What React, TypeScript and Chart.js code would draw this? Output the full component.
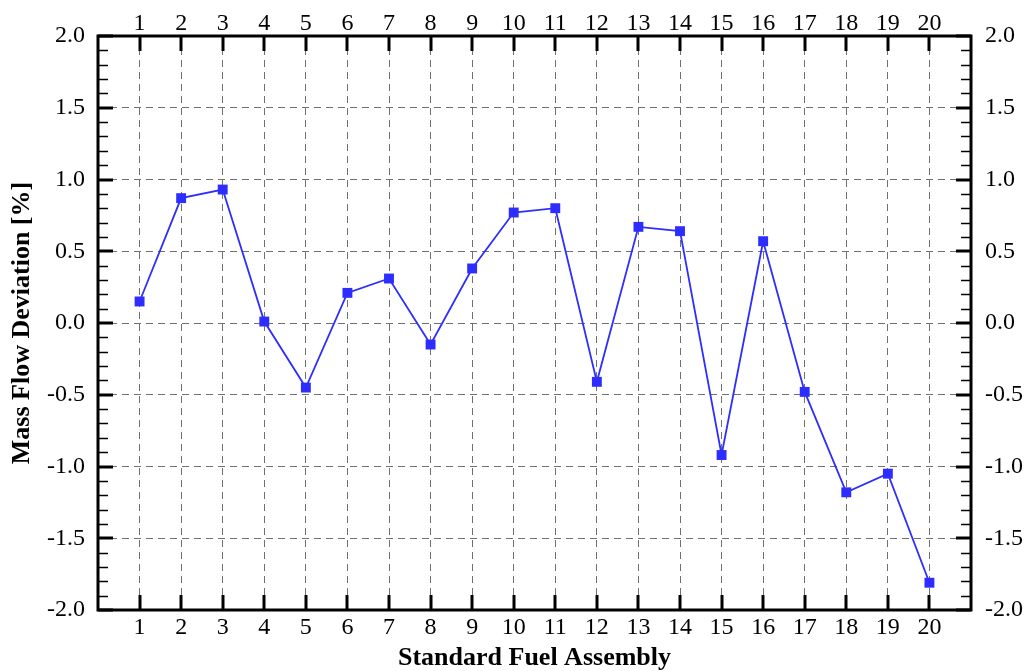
import React, { useEffect, useRef } from "react";
import { Chart, registerables } from "chart.js";

Chart.register(...registerables);

// ---- data ----
const assemblies: number[] = [1, 2, 3, 4, 5, 6, 7, 8, 9, 10, 11, 12, 13, 14, 15, 16, 17, 18, 19, 20];
const massFlowDeviation: number[] = [
  0.15, 0.87, 0.93, 0.01, -0.45, 0.21, 0.31, -0.15, 0.38, 0.77,
  0.8, -0.41, 0.67, 0.64, -0.92, 0.57, -0.48, -1.18, -1.05, -1.81,
];
const yTickValues: number[] = [-2.0, -1.5, -1.0, -0.5, 0.0, 0.5, 1.0, 1.5, 2.0];
const yMinorStep = 0.1;
const xTitle = "Standard Fuel Assembly";
const yTitle = "Mass Flow Deviation [%]";

const SERIF = "'Liberation Serif', 'Times New Roman', serif";
const LINE_COLOR = "rgb(45,45,255)";

const frameTicksPlugin = {
  id: "frameTicks",
  afterDraw(chart: any) {
    const { ctx, chartArea } = chart;
    const { left, right, top, bottom } = chartArea;
    const xs = chart.scales.x;
    const ys = chart.scales.y;
    const seg = (x1: number, y1: number, x2: number, y2: number) => {
      ctx.beginPath();
      ctx.moveTo(x1, y1);
      ctx.lineTo(x2, y2);
      ctx.stroke();
    };
    ctx.save();
    ctx.strokeStyle = "#000";
    ctx.lineCap = "butt";
    // minor y ticks
    ctx.lineWidth = 1.5;
    const minV = yTickValues[0];
    const maxV = yTickValues[yTickValues.length - 1];
    const n = Math.round((maxV - minV) / yMinorStep);
    for (let i = 1; i < n; i++) {
      const v = minV + i * yMinorStep;
      if (Math.abs(v * 2 - Math.round(v * 2)) < 1e-6) continue;
      const py = Math.round(ys.getPixelForValue(v)) + 0.5;
      seg(left, py, left + 10, py);
      seg(right, py, right - 10, py);
    }
    // major y ticks
    ctx.lineWidth = 3;
    for (const v of yTickValues) {
      const py = Math.round(ys.getPixelForValue(v));
      seg(left, py, left + 15, py);
      seg(right, py, right - 15, py);
    }
    // x ticks
    for (const v of assemblies) {
      const px = Math.round(xs.getPixelForValue(v));
      seg(px, bottom, px, bottom - 15);
      seg(px, top, px, top + 15);
    }
    // frame
    ctx.lineWidth = 3;
    ctx.strokeRect(left, top, right - left, bottom - top);
    ctx.restore();
  },
};

const tickFont = { family: SERIF, size: 24, lineHeight: 1 };

export default function App() {
  const canvasRef = useRef<HTMLCanvasElement | null>(null);

  useEffect(() => {
    const canvas = canvasRef.current;
    if (!canvas) return;
    const setXTicks = (scale: any) => {
      scale.ticks = assemblies.map((v) => ({ value: v }));
    };
    const setYTicks = (scale: any) => {
      scale.ticks = yTickValues.map((v) => ({ value: v }));
    };
    const chart = new Chart(canvas, {
      type: "line",
      data: {
        datasets: [
          {
            data: assemblies.map((a, i) => ({ x: a, y: massFlowDeviation[i] })),
            borderColor: LINE_COLOR,
            backgroundColor: LINE_COLOR,
            borderWidth: 1.8,
            pointStyle: "rect",
            pointRadius: 7,
            pointBorderWidth: 0,
            pointBackgroundColor: LINE_COLOR,
            tension: 0,
          },
        ],
      },
      options: {
        responsive: false,
        animation: false,
        devicePixelRatio: 1,
        layout: { padding: 0 },
        plugins: { legend: { display: false }, tooltip: { enabled: false } },
        scales: {
          x: {
            type: "linear",
            position: "bottom",
            min: 0,
            max: 21,
            afterBuildTicks: setXTicks,
            afterFit: (s: any) => { s.height = 61; },
            grid: { color: "#707070", lineWidth: 1, drawTicks: false },
            border: { display: false, dash: [7, 5] },
            ticks: { font: tickFont, color: "#000", padding: 6, autoSkip: false, maxRotation: 0, callback: (v: any) => String(v) },
            title: { display: true, text: xTitle, color: "#000", font: { family: SERIF, size: 26, weight: "bold", lineHeight: 1 }, padding: 0 },
          },
          x2: {
            type: "linear",
            position: "top",
            min: 0,
            max: 21,
            afterBuildTicks: setXTicks,
            afterFit: (s: any) => { s.height = 36; },
            grid: { display: false, drawTicks: false },
            border: { display: false },
            ticks: { font: tickFont, color: "#000", padding: 0, autoSkip: false, maxRotation: 0, callback: (v: any) => String(v) },
          },
          y: {
            type: "linear",
            position: "left",
            min: -2,
            max: 2,
            afterBuildTicks: setYTicks,
            afterFit: (s: any) => { s.width = 98; },
            grid: { color: "#707070", lineWidth: 1, drawTicks: false },
            border: { display: false, dash: [7, 5] },
            ticks: { font: tickFont, color: "#000", padding: 13, callback: (v: any) => Number(v).toFixed(1) },
            title: { display: true, text: yTitle, color: "#000", font: { family: SERIF, size: 26, weight: "bold", lineHeight: 1 }, padding: { top: 9, bottom: 0 } },
          },
          y2: {
            type: "linear",
            position: "right",
            min: -2,
            max: 2,
            afterBuildTicks: setYTicks,
            afterFit: (s: any) => { s.width = 59; },
            grid: { display: false, drawTicks: false },
            border: { display: false },
            ticks: { font: tickFont, color: "#000", padding: 14, callback: (v: any) => Number(v).toFixed(1) },
          },
        },
      },
      plugins: [frameTicksPlugin],
    } as any);
    return () => chart.destroy();
  }, []);

  return (
    <div style={{ position: "absolute", left: 0, top: 0, width: 1030, height: 671, background: "#fff" }}>
      <canvas ref={canvasRef} width={1030} height={671} style={{ width: 1030, height: 671, display: "block" }} />
    </div>
  );
}
